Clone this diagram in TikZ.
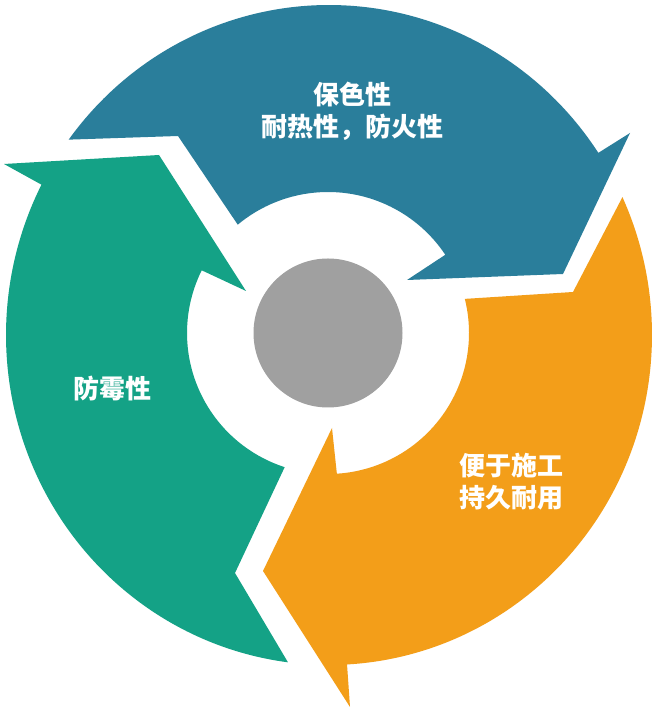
\documentclass[tikz,border=0pt]{standalone}
\usepackage{fontspec}
\newfontfamily\cjk{Noto Sans CJK SC}[BoldFont={Noto Sans CJK SC Black}]
\usetikzlibrary{calc}
\definecolor{bluec}{RGB}{42,126,155}
\definecolor{greenc}{RGB}{20,162,134}
\definecolor{orangec}{RGB}{243,158,25}
\definecolor{grayc}{RGB}{160,160,160}
\tikzset{
  lbl/.style={text=white, font=\cjk\bfseries\fontsize{26}{32}\selectfont, align=center, inner sep=0pt},
  ring/.style={line width=0.5pt}
}
\begin{document}
\begin{tikzpicture}[x=1pt,y=1pt]
\useasboundingbox[fill=white] (0,0) rectangle (653,709);
\coordinate (Co) at (329,374);
\coordinate (Ci) at (328,376);
% blue arrow (top)
\fill[bluec] ($(Co)+(143.7:323 and 330)$) arc[start angle=143.7, end angle=33.5, x radius=323, y radius=330]
  -- (630,576) -- (563,435) -- (407,429)
  -- ($(Ci)+(33.7:141)$) arc[start angle=33.7, end angle=129.8, radius=141]
  -- (178,573) -- cycle;
% green arrow (left)
\fill[greenc] ($(Co)+(262.7:323 and 330)$) arc[start angle=262.7, end angle=152.9, x radius=323, y radius=330]
  -- (4,545) -- (159,554) -- (246,418)
  -- ($(Ci)+(153.6:141)$) arc[start angle=153.6, end angle=252.1, radius=141]
  -- (235,136) -- cycle;
% orange arrow (right/bottom)
\fill[orangec] ($(Co)+(24.7:323 and 330)$) arc[start angle=24.7, end angle=-86.8, x radius=323, y radius=330]
  -- (350,2) -- (263,138) -- (332,281)
  -- ($(Ci)+(-86.4:141)$) arc[start angle=-86.4, end angle=14.0, radius=141]
  -- (573,417) -- cycle;
% center disc
\node[circle, fill=grayc, minimum size=149pt, inner sep=0pt] (hub) at (328,376) {};
% labels
\node[lbl] (t1) at (352,598) {保色性\\耐热性，防火性};
\node[lbl] (t2) at (112,320) {防霉性};
\node[lbl] (t3) at (511,227) {便于施工\\持久耐用};
\end{tikzpicture}
\end{document}
